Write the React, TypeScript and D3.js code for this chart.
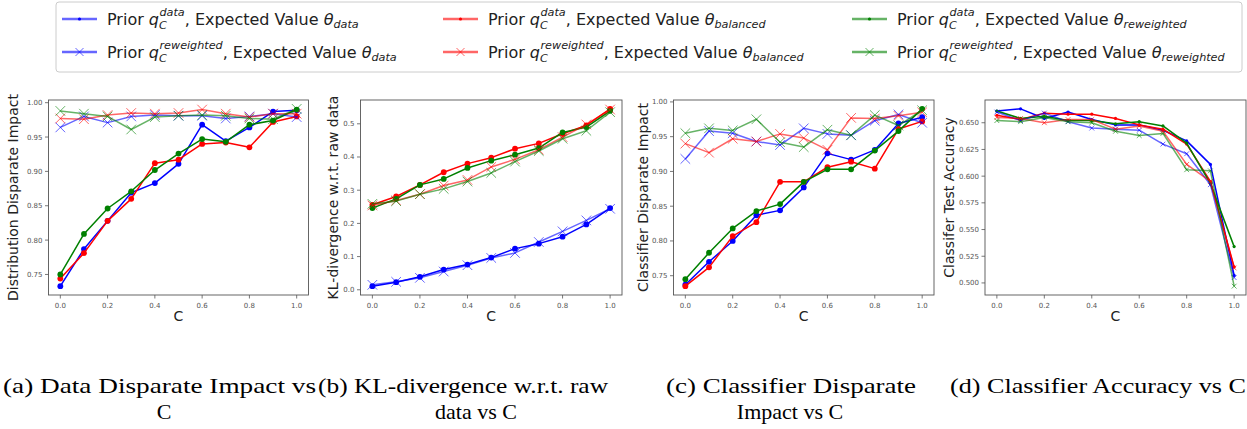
import React, { useEffect, useRef } from "react";
import * as d3 from "d3";

const C_VALUES = [0, 0.1, 0.2, 0.3, 0.4, 0.5, 0.6, 0.7, 0.8, 0.9, 1.0];
const X_TICKS = [0, 0.2, 0.4, 0.6, 0.8, 1.0];
const COLORS = ["#0000ff", "#ff0000", "#008000"];
const THETA_NAMES = ["data", "balanced", "reweighted"];
const PRIOR_NAMES = ["data", "reweighted"];

// (a) Distribution Disparate Impact
const aPriorDataThetaData = [0.733, 0.787, 0.828, 0.869, 0.883, 0.911, 0.968, 0.944, 0.964, 0.987, 0.989];
const aPriorDataThetaBal = [0.744, 0.781, 0.828, 0.860, 0.912, 0.917, 0.940, 0.942, 0.935, 0.972, 0.980];
const aPriorDataThetaRew = [0.750, 0.809, 0.846, 0.871, 0.902, 0.926, 0.947, 0.943, 0.968, 0.974, 0.990];
const aPriorRewThetaData = [0.964, 0.980, 0.971, 0.980, 0.982, 0.981, 0.981, 0.977, 0.980, 0.984, 0.979];
const aPriorRewThetaBal = [0.977, 0.976, 0.982, 0.985, 0.984, 0.985, 0.990, 0.984, 0.979, 0.984, 0.984];
const aPriorRewThetaRew = [0.988, 0.984, 0.980, 0.961, 0.979, 0.981, 0.982, 0.981, 0.977, 0.976, 0.991];

// (b) KL-divergence w.r.t. raw data
const bPriorDataThetaData = [0.011, 0.023, 0.039, 0.061, 0.076, 0.097, 0.124, 0.139, 0.160, 0.197, 0.246];
const bPriorDataThetaBal = [0.256, 0.281, 0.316, 0.354, 0.380, 0.398, 0.425, 0.441, 0.470, 0.495, 0.545];
const bPriorDataThetaRew = [0.246, 0.274, 0.316, 0.334, 0.367, 0.389, 0.407, 0.427, 0.474, 0.490, 0.539];
const bPriorRewThetaData = [0.015, 0.024, 0.036, 0.055, 0.074, 0.096, 0.111, 0.144, 0.176, 0.209, 0.244];
const bPriorRewThetaBal = [0.254, 0.269, 0.288, 0.314, 0.331, 0.370, 0.393, 0.422, 0.460, 0.498, 0.543];
const bPriorRewThetaRew = [0.259, 0.267, 0.288, 0.304, 0.326, 0.352, 0.386, 0.418, 0.455, 0.479, 0.535];

// (c) Classifier Disparate Impact
const cPriorDataThetaData = [0.737, 0.770, 0.800, 0.837, 0.844, 0.877, 0.926, 0.917, 0.931, 0.969, 0.978];
const cPriorDataThetaBal = [0.735, 0.762, 0.807, 0.827, 0.885, 0.885, 0.906, 0.914, 0.904, 0.961, 0.972];
const cPriorDataThetaRew = [0.745, 0.783, 0.818, 0.843, 0.853, 0.885, 0.903, 0.903, 0.930, 0.958, 0.990];
const cPriorRewThetaData = [0.918, 0.958, 0.955, 0.943, 0.938, 0.962, 0.954, 0.952, 0.973, 0.982, 0.970];
const cPriorRewThetaBal = [0.940, 0.927, 0.947, 0.943, 0.954, 0.948, 0.931, 0.977, 0.976, 0.980, 0.985];
const cPriorRewThetaRew = [0.955, 0.962, 0.959, 0.975, 0.942, 0.935, 0.960, 0.952, 0.981, 0.966, 0.988];

// (d) Classifier Test Accuracy
const dPriorDataThetaData = [0.661, 0.663, 0.654, 0.660, 0.653, 0.648, 0.648, 0.643, 0.633, 0.611, 0.507];
const dPriorDataThetaBal = [0.657, 0.653, 0.659, 0.658, 0.658, 0.654, 0.648, 0.644, 0.630, 0.595, 0.515];
const dPriorDataThetaRew = [0.661, 0.654, 0.656, 0.652, 0.652, 0.649, 0.651, 0.647, 0.631, 0.593, 0.534];
const dPriorRewThetaData = [0.660, 0.652, 0.659, 0.651, 0.645, 0.644, 0.643, 0.630, 0.621, 0.592, 0.505];
const dPriorRewThetaBal = [0.655, 0.654, 0.650, 0.653, 0.653, 0.644, 0.647, 0.642, 0.611, 0.595, 0.514];
const dPriorRewThetaRew = [0.652, 0.651, 0.655, 0.651, 0.650, 0.642, 0.638, 0.640, 0.606, 0.605, 0.497];

const PANELS = [
  {
    left: 48.5, right: 308.5, yLabel: "Distribution Disparate Impact", yLabelX: 18,
    yTicks: [0.75, 0.8, 0.85, 0.9, 0.95, 1.0], yFmt: ".2f", small: false,
    series: [aPriorDataThetaData, aPriorDataThetaBal, aPriorDataThetaRew, aPriorRewThetaData, aPriorRewThetaBal, aPriorRewThetaRew],
  },
  {
    left: 360.5, right: 622, yLabel: "KL-divergence w.r.t. raw data", yLabelX: 338,
    yTicks: [0, 0.1, 0.2, 0.3, 0.4, 0.5], yFmt: ".1f", small: false,
    series: [bPriorDataThetaData, bPriorDataThetaBal, bPriorDataThetaRew, bPriorRewThetaData, bPriorRewThetaBal, bPriorRewThetaRew],
  },
  {
    left: 673.5, right: 934, yLabel: "Classifier Disparate Impact", yLabelX: 648,
    yTicks: [0.75, 0.8, 0.85, 0.9, 0.95, 1.0], yFmt: ".2f", small: false,
    series: [cPriorDataThetaData, cPriorDataThetaBal, cPriorDataThetaRew, cPriorRewThetaData, cPriorRewThetaBal, cPriorRewThetaRew],
  },
  {
    left: 985, right: 1246, yLabel: "Classifer Test Accuracy", yLabelX: 954,
    yTicks: [0.5, 0.525, 0.55, 0.575, 0.6, 0.625, 0.65], yFmt: ".3f", small: true,
    series: [dPriorDataThetaData, dPriorDataThetaBal, dPriorDataThetaRew, dPriorRewThetaData, dPriorRewThetaBal, dPriorRewThetaRew],
  },
];

const CAPTIONS = [
  { lines: ["(a) Data Disparate Impact vs", "C"], x1: 3, w1: 313, cx2: 164 },
  { lines: ["(b) KL-divergence w.r.t. raw", "data vs C"], x1: 318, w1: 290, cx2: 476 },
  { lines: ["(c) Classifier Disparate", "Impact vs C"], x1: 666, w1: 250, cx2: 790 },
  { lines: ["(d) Classifier Accuracy vs C"], x1: 950, w1: 296, cx2: 0 },
];

const W = 1247;
const H = 429;
const TOP = 100;
const BOTTOM = 295;

function crossPath(s: number) {
  return `M${-s},${-s}L${s},${s}M${-s},${s}L${s},${-s}`;
}

export default function App() {
  const ref = useRef<SVGSVGElement>(null);

  useEffect(() => {
    const svg = d3.select(ref.current);
    svg.selectAll("*").remove();
    const font = "'DejaVu Sans', sans-serif";

    // Panels
    PANELS.forEach((p) => {
      const g = svg.append("g");
      const all = p.series.flat();
      const mn = d3.min(all) as number;
      const mx = d3.max(all) as number;
      const pad = (mx - mn) * 0.05;
      const x = d3.scaleLinear().domain([-0.05, 1.05]).range([p.left, p.right]);
      const y = d3.scaleLinear().domain([mn - pad, mx + pad]).range([BOTTOM, TOP]);

      const tickColor = "#555";
      X_TICKS.forEach((t) => {
        g.append("line").attr("x1", x(t)).attr("x2", x(t)).attr("y1", BOTTOM).attr("y2", BOTTOM + 3.5)
          .attr("stroke", tickColor).attr("stroke-width", 0.8);
        g.append("text").attr("x", x(t)).attr("y", BOTTOM + 12.5).attr("text-anchor", "middle")
          .attr("font-family", font).attr("font-size", 7).attr("fill", "#555").text(d3.format(".1f")(t));
      });
      p.yTicks.forEach((t) => {
        g.append("line").attr("x1", p.left - 3.5).attr("x2", p.left).attr("y1", y(t)).attr("y2", y(t))
          .attr("stroke", tickColor).attr("stroke-width", 0.8);
        g.append("text").attr("x", p.left - 6).attr("y", y(t) + 2.5).attr("text-anchor", "end")
          .attr("font-family", font).attr("font-size", 7).attr("fill", "#555").text(d3.format(p.yFmt)(t));
      });

      const line = d3.line<number>().x((_, i) => x(C_VALUES[i])).y((d) => y(d));
      const r = p.small ? 1.6 : 2.9;
      const cs = p.small ? 2.4 : 4.8;
      p.series.forEach((vals, si) => {
        const color = COLORS[si % 3];
        const isCross = si >= 3;
        const op = isCross ? 0.6 : 1;
        g.append("path").attr("d", line(vals)).attr("fill", "none").attr("stroke", color)
          .attr("stroke-width", 1.5).attr("stroke-opacity", op).attr("stroke-linejoin", "round");
        vals.forEach((v, i) => {
          if (isCross) {
            g.append("path").attr("d", crossPath(cs)).attr("transform", `translate(${x(C_VALUES[i])},${y(v)})`)
              .attr("stroke", color).attr("stroke-width", 1).attr("stroke-opacity", op).attr("fill", "none");
          } else {
            g.append("circle").attr("cx", x(C_VALUES[i])).attr("cy", y(v)).attr("r", r).attr("fill", color);
          }
        });
      });

      g.append("rect").attr("x", p.left).attr("y", TOP).attr("width", p.right - p.left).attr("height", BOTTOM - TOP)
        .attr("fill", "none").attr("stroke", "#555").attr("stroke-width", 0.9);

      g.append("text").attr("x", (p.left + p.right) / 2).attr("y", 321).attr("text-anchor", "middle")
        .attr("font-family", font).attr("font-size", 14).attr("fill", "#222").text("C");
      g.append("text").attr("transform", `translate(${p.yLabelX},${(TOP + BOTTOM) / 2}) rotate(-90)`)
        .attr("text-anchor", "middle").attr("font-family", font).attr("font-size", 14).attr("fill", "#222")
        .text(p.yLabel);
    });

    // Legend
    const lg = svg.append("g");
    lg.append("rect").attr("x", 56).attr("y", 2).attr("width", 1186).attr("height", 70).attr("rx", 3)
      .attr("fill", "#fff").attr("stroke", "#ccc").attr("stroke-width", 1);
    const colX = [62, 443, 852];
    const rowY = [19, 52];
    const fs = 16;
    const ss = 11.2;
    PRIOR_NAMES.forEach((prior, ri) => {
      THETA_NAMES.forEach((theta, ci) => {
        const hx = colX[ci];
        const hy = rowY[ri];
        const color = COLORS[ci];
        lg.append("line").attr("x1", hx).attr("x2", hx + 35).attr("y1", hy).attr("y2", hy)
          .attr("stroke", color).attr("stroke-width", 2.5).attr("stroke-opacity", 0.6);
        if (ri === 0) {
          lg.append("circle").attr("cx", hx + 17.5).attr("cy", hy).attr("r", 1.6).attr("fill", color);
        } else {
          lg.append("path").attr("d", crossPath(4)).attr("transform", `translate(${hx + 17.5},${hy})`)
            .attr("stroke", color).attr("stroke-width", 1).attr("stroke-opacity", 0.6);
        }
        let cx = hx + 45;
        const base = hy + 5.5;
        const add = (txt: string, xx: number, yy: number, size: number, italic: boolean) => {
          const t = lg.append("text").attr("x", xx).attr("y", yy).attr("font-family", font)
            .attr("font-size", size).attr("fill", "#222").style("white-space", "pre")
            .attr("font-style", italic ? "italic" : "normal").text(txt);
          return (t.node() as SVGTextElement).getComputedTextLength();
        };
        cx += add("Prior ", cx, base, fs, false);
        cx += add("q", cx, base, fs, true);
        const wSup = add(prior, cx + 0.5, base - 8.5, ss, true);
        const wSub = add("C", cx, base + 4, ss, true);
        cx += Math.max(wSup, wSub) + 0.5;
        cx += add(", Expected Value ", cx, base, fs, false);
        cx += add("\u03b8", cx, base, fs, true);
        add(theta, cx, base + 3.5, ss, true);
      });
    });

    // Captions
    const cg = svg.append("g");
    CAPTIONS.forEach((c) => {
      cg.append("text").attr("x", c.x1).attr("y", 393).attr("font-family", "'Liberation Serif', serif")
        .attr("font-size", 22).attr("fill", "#000").attr("textLength", c.w1).attr("lengthAdjust", "spacingAndGlyphs")
        .text(c.lines[0]);
      if (c.lines[1]) {
        cg.append("text").attr("x", c.cx2).attr("y", 419).attr("text-anchor", "middle")
          .attr("font-family", "'Liberation Serif', serif").attr("font-size", 22).attr("fill", "#000")
          .text(c.lines[1]);
      }
    });
  }, []);

  return (
    <svg ref={ref} width={W} height={H} style={{ position: "absolute", left: 0, top: 0, background: "#fff" }} />
  );
}
